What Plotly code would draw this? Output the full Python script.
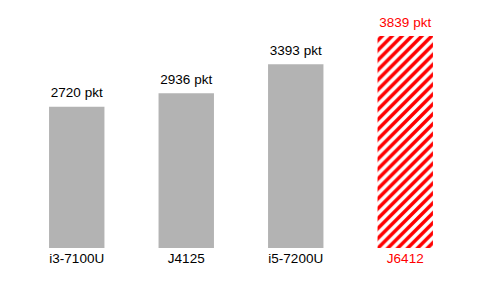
import plotly.graph_objects as go

categories = ["i3-7100U", "J4125", "i5-7200U", "J6412"]
values = [2720, 2936, 3393, 3839]
labels = ["2720 pkt", "2936 pkt", "3393 pkt", "3839 pkt"]

GRAY = "#b3b3b3"
RED = "#ff0000"
bar_colors = [GRAY, GRAY, GRAY, RED]
text_colors = ["#000000", "#000000", "#000000", RED]
pattern_shapes = ["", "", "", "/"]
FONT = "Liberation Sans, Arial, sans-serif"

fig = go.Figure()
fig.add_trace(go.Bar(
    x=categories,
    y=values,
    marker=dict(
        color=bar_colors,
        line=dict(width=0),
        pattern=dict(shape=pattern_shapes, fgcolor=[RED] * 4, bgcolor=["white"] * 4,
                     size=7, solidity=0.5, fillmode="replace"),
    ),
    hoverinfo="skip",
))
fig.add_trace(go.Scatter(
    x=categories,
    y=values,
    mode="markers+text",
    text=labels,
    textposition="top center",
    textfont=dict(family=FONT, size=13.5, color=text_colors),
    marker=dict(size=8, opacity=0),
    cliponaxis=False,
    hoverinfo="skip",
))

ticktext = [c if i < 3 else f'<span style="color:{RED}">{c}</span>' for i, c in enumerate(categories)]

base = 490
top = base + (248.3 - 20) / 0.0634

fig.update_layout(
    width=500, height=300,
    margin=dict(l=22, r=40, t=20, b=52),
    plot_bgcolor="white", paper_bgcolor="white",
    bargap=0.494,
    showlegend=False,
    font=dict(family=FONT, size=13.5, color="#000"),
    xaxis=dict(
        tickmode="array", tickvals=categories, ticktext=ticktext,
        showgrid=False, showline=False, zeroline=False, ticks="",
        tickfont=dict(size=13.5, color="#000"),
    ),
    yaxis=dict(range=[base, top], visible=False, showgrid=False, zeroline=False),
)

fig.write_html("out.html")
